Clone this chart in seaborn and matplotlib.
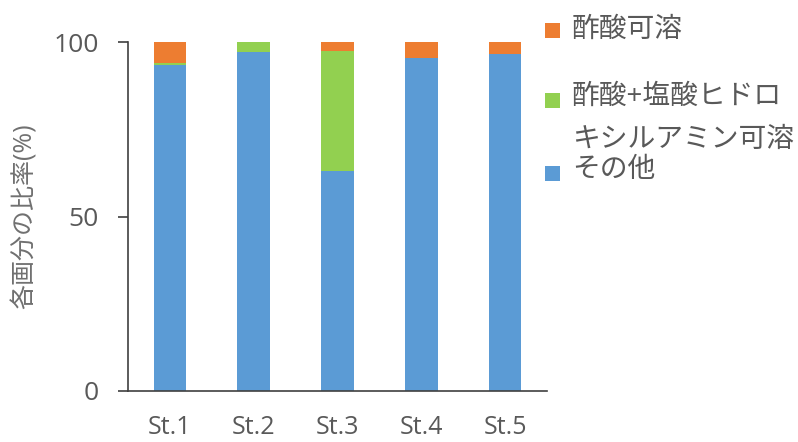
import matplotlib
matplotlib.use("Agg")
import matplotlib.pyplot as plt
from matplotlib.patches import Rectangle
import seaborn as sns
import numpy as np
import pandas as pd

stations = ["St.1", "St.2", "St.3", "St.4", "St.5"]
other = [93.5, 97.0, 63.0, 95.5, 96.5]          # その他 (blue)
hydroxyl = [0.5, 3.0, 34.3, 0.0, 0.0]          # 酢酸+塩酸ヒドロキシルアミン可溶 (green)
acetic = [6.0, 0.0, 2.7, 4.5, 3.5]             # 酢酸可溶 (orange)
yticks = [0, 50, 100]

legend_lines = ["酢酸可溶", "酢酸+塩酸ヒドロ", "キシルアミン可溶", "その他"]

c_blue = "#5B9BD5"
c_green = "#92D050"
c_orange = "#ED7D31"
c_text = "#595959"

sns.set_theme(style="white")
plt.rcParams['font.family'] = ['Open Sans', 'Noto Sans CJK JP', 'DejaVu Sans']

df = pd.DataFrame({"st": stations, "other": other, "hyd": hydroxyl, "ac": acetic})
df["top2"] = df["other"] + df["hyd"]
df["top3"] = df["top2"] + df["ac"]

fig = plt.figure(figsize=(7.98, 4.42), dpi=100)
ax = fig.add_axes([128/798, 1-391/442, (547-128)/798, (391-42)/442])

w = 0.39
sns.barplot(data=df, x="st", y="top3", color=c_orange, saturation=1, width=w, ax=ax)
sns.barplot(data=df, x="st", y="top2", color=c_green, saturation=1, width=w, ax=ax)
sns.barplot(data=df, x="st", y="other", color=c_blue, saturation=1, width=w, ax=ax)
for p in ax.patches:
    p.set_edgecolor("none")
    p.set_linewidth(0)

ax.set_xlim(-0.5, 4.5)
ax.set_ylim(0, 100)
ax.set_yticks(yticks)
ax.set_xlabel("")
ax.set_ylabel("各画分の比率(%)", fontsize=18, color="#707070")
ax.yaxis.set_label_coords(-0.215, 0.5)

for s in ["top", "right"]:
    ax.spines[s].set_visible(False)
for s in ["left", "bottom"]:
    ax.spines[s].set_color("#404040")
    ax.spines[s].set_linewidth(1.2)

ax.tick_params(axis="y", which="both", left=True, length=7, width=1.2, color="#404040",
               pad=14, labelsize=19, labelcolor=c_text)
ax.tick_params(axis="x", length=0, pad=17, labelsize=18, labelcolor=c_text)

# legend (manual, matching reference layout)
sq = 15
squares = [(545, 30, c_orange), (545, 100, c_green), (545, 173, c_blue)]
for x0, yc, col in squares:
    fig.patches.append(Rectangle((x0/798, 1-(yc+sq/2)/442), sq/798, sq/442,
                                 transform=fig.transFigure, facecolor=col,
                                 edgecolor="none"))
text_y = [30, 97, 140, 170]
for t, yc in zip(legend_lines, text_y):
    fig.text(572/798, 1-yc/442, t, fontsize=20, color=c_text, va="center", ha="left")

fig.savefig("out.png", dpi=100)
